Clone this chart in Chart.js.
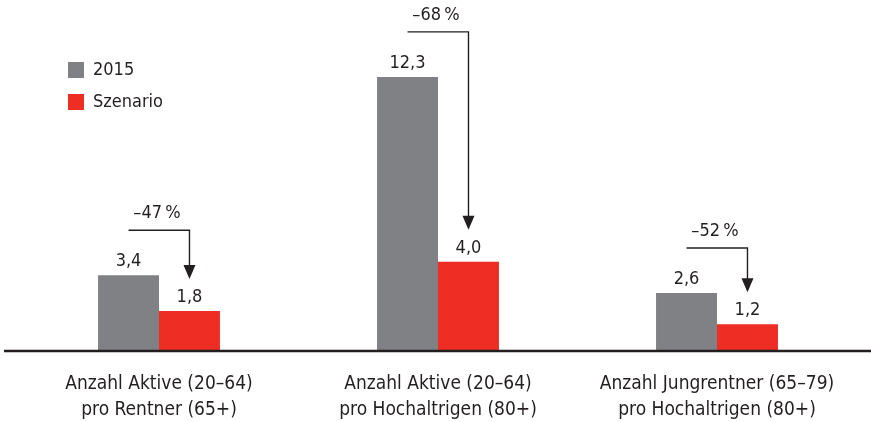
<!DOCTYPE html>
<html>
<head>
<meta charset="utf-8">
<script src="https://cdn.jsdelivr.net/npm/chart.js@4/dist/chart.umd.min.js"></script>
<style>
  html, body { margin: 0; padding: 0; background: #fff; }
  #wrap { width: 871px; height: 422px; position: relative; }
</style>
</head>
<body>
<div id="wrap"><canvas id="chart"></canvas></div>
<script>
// values
const categories = [
    ['Anzahl Aktive (20–64)', 'pro Rentner (65+)'],
    ['Anzahl Aktive (20–64)', 'pro Hochaltrigen (80+)'],
    ['Anzahl Jungrentner (65–79)', 'pro Hochaltrigen (80+)']
];
const seriesNames = ['2015', 'Szenario'];
const values2015 = [3.4, 12.3, 2.6];
const valuesSzenario = [1.8, 4.0, 1.2];
const changeLabels = ['–47\u2009%', '–68\u2009%', '–52\u2009%'];

const FONT = "'DejaVu Sans Condensed', 'DejaVu Sans', sans-serif";
const GREY = '#808184';
const RED = '#ee2e24';
const TEXT = '#231f20';

function fmt(v) {
    return v.toFixed(1).replace('.', ',');
}

// value labels, change arrows, legend and the base line
const decorations = {
    id: 'decorations',
    afterDatasetsDraw(chart) {
        const ctx = chart.ctx;
        const y = chart.scales.y;
        const m0 = chart.getDatasetMeta(0);
        const m1 = chart.getDatasetMeta(1);
        ctx.save();

        // base line
        ctx.strokeStyle = '#231f20';
        ctx.lineWidth = 2.5;
        ctx.beginPath();
        ctx.moveTo(4, y.getPixelForValue(0));
        ctx.lineTo(chart.width, y.getPixelForValue(0));
        ctx.stroke();

        ctx.font = '18px ' + FONT;
        ctx.fillStyle = TEXT;
        ctx.textAlign = 'center';
        ctx.textBaseline = 'middle';

        for (let i = 0; i < categories.length; i++) {
            const g = m0.data[i];
            const r = m1.data[i];
            ctx.fillStyle = TEXT;
            ctx.fillText(fmt(values2015[i]), g.x, g.y - 14);
            ctx.fillText(fmt(valuesSzenario[i]), r.x, r.y - 14);

            // arrow
            const lineY = g.y - 45;
            const tipY = r.y - 32;
            ctx.strokeStyle = '#231f20';
            ctx.lineWidth = 1.4;
            ctx.beginPath();
            ctx.moveTo(g.x, lineY);
            ctx.lineTo(r.x, lineY);
            ctx.lineTo(r.x, tipY - 12);
            ctx.stroke();
            ctx.beginPath();
            ctx.moveTo(r.x - 6, tipY - 14);
            ctx.lineTo(r.x + 6, tipY - 14);
            ctx.lineTo(r.x, tipY);
            ctx.closePath();
            ctx.fill();

            ctx.fillText(changeLabels[i], (g.x + r.x) / 2 - 2, lineY - 17);
        }

        // legend
        const colors = [GREY, RED];
        ctx.textAlign = 'left';
        for (let k = 0; k < seriesNames.length; k++) {
            const ly = 62 + k * 32;
            ctx.fillStyle = colors[k];
            ctx.fillRect(68, ly, 16, 16);
            ctx.fillStyle = TEXT;
            ctx.fillText(seriesNames[k], 93, ly + 8.5);
        }
        ctx.restore();
    }
};

new Chart(document.getElementById('chart'), {
    type: 'bar',
    data: {
        labels: categories,
        datasets: [{
            label: seriesNames[0],
            data: values2015,
            backgroundColor: GREY
        }, {
            label: seriesNames[1],
            data: valuesSzenario,
            backgroundColor: RED
        }]
    },
    options: {
        responsive: true,
        maintainAspectRatio: false,
        animation: false,
        layout: { padding: { left: 19.5, right: 14.5, top: 0, bottom: 0 } },
        datasets: {
            bar: { barPercentage: 1, categoryPercentage: 0.437 }
        },
        plugins: {
            legend: { display: false },
            tooltip: { enabled: false }
        },
        scales: {
            x: {
                grid: { display: false, drawTicks: false },
                border: { display: false },
                ticks: {
                    color: TEXT,
                    padding: 20,
                    font: { family: FONT, size: 19, lineHeight: 1.37 }
                },
                afterFit(scale) { scale.height = 71; }
            },
            y: {
                display: false,
                min: 0,
                max: 15.75
            }
        }
    },
    plugins: [decorations]
});
</script>
</body>
</html>
